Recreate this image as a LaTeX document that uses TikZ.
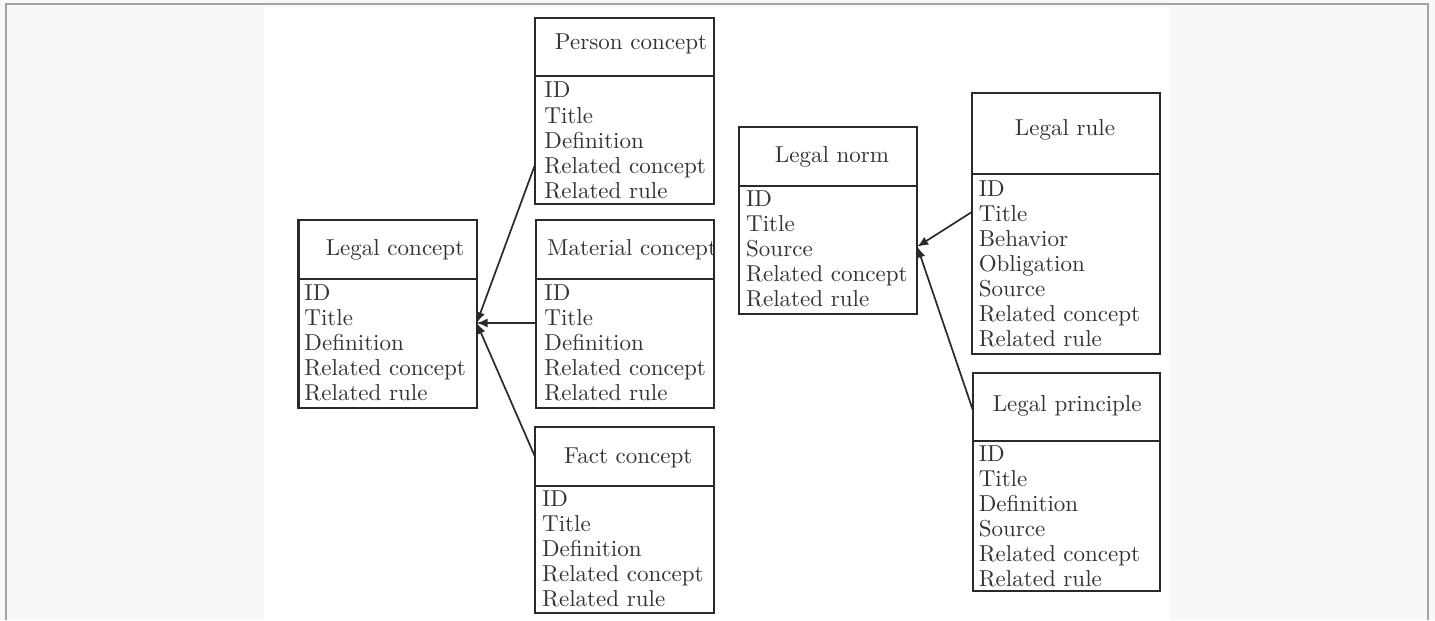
\documentclass[tikz,border=0pt]{standalone}
\usetikzlibrary{calc,arrows.meta}

% one drawing unit, used for sizes given in the same units as coordinates
\newlength\pxu
\setlength\pxu{0.441pt}

\definecolor{pagebg}{HTML}{F8F8F8}
\definecolor{framegray}{HTML}{A2A2A2}
\definecolor{ink}{HTML}{2A2A2A}
\definecolor{txt}{HTML}{333333}

\tikzset{
  classframe/.style={rectangle, draw=ink, line width=0.9pt, fill=white,
    inner sep=0pt, outer sep=0pt},
  divider/.style={draw=ink, line width=1pt},
  headtext/.style={text=txt, anchor=base, inner sep=0pt,
    font=\fontsize{10.15}{12}\selectfont},
  bodytext/.style={text=txt, anchor=base west, inner sep=0pt,
    font=\fontsize{10.15}{11.05}\selectfont},
  link/.style={draw=ink, line width=0.75pt, -{Latex[length=4.8pt,width=4pt]}}
}

% class box: name, left, top, right, bottom, y of the header divider
\newcommand\classbox[6]{%
  \node[classframe, minimum width={(#4-#2)*\pxu}, minimum height={(#5-#3)*\pxu}]
    (#1) at ({(#2+#4)/2},{(#3+#5)/2}) {};
  \draw[divider] (#1.west |- 0,#6) -- (#1.east |- 0,#6);
}
% attribute list, one entry per row
\newcommand\attrlist[1]{\begin{tabular}[t]{@{}l@{}}#1\end{tabular}}

\begin{document}
\begin{tikzpicture}[x=0.441pt, y=-0.441pt]
  % page and panel
  \fill[pagebg] (0,0) rectangle (1435,620);
  \fill[white] (264,7) rectangle (1169,620);
  \draw[framegray, line width={2*\pxu}] (6,620) -- (6,4) -- (1428,4) -- (1428,620);

  % concept side
  \classbox{lc}{298.5}{220}{476.7}{407.7}{279}
  \node[headtext] (lc-h) at (395,255.5) {Legal concept};
  \node[bodytext] (lc-b) at (304,300.5)
    {\attrlist{ID\\Title\\Definition\\Related concept\\Related rule}};

  \classbox{pc}{535}{17.7}{714}{204.3}{75.7}
  \node[headtext] (pc-h) at (631,50) {Person concept};
  \node[bodytext] (pc-b) at (544,98)
    {\attrlist{ID\\Title\\Definition\\Related concept\\Related rule}};

  \classbox{mc}{536}{220}{714}{407.7}{279}
  \begin{scope}
    \clip (mc.north west) rectangle (713.5,279);
    \node[headtext, anchor=base west] (mc-h) at (547,255.5) {Material concept};
  \end{scope}
  \node[bodytext] (mc-b) at (544,300.5)
    {\attrlist{ID\\Title\\Definition\\Related concept\\Related rule}};

  \classbox{fc}{535}{426.7}{714}{613.3}{486}
  \node[headtext] (fc-h) at (628.3,463.3) {Fact concept};
  \node[bodytext] (fc-b) at (541.7,506.5)
    {\attrlist{ID\\Title\\Definition\\Related concept\\Related rule}};

  % norm side
  \classbox{ln}{739}{126.7}{917.3}{314}{186}
  \node[headtext] (ln-h) at (832,162.7) {Legal norm};
  \node[bodytext] (ln-b) at (745.7,206.5)
    {\attrlist{ID\\Title\\Source\\Related concept\\Related rule}};

  \classbox{lr}{972.3}{92.7}{1160}{354}{174}
  \node[headtext] (lr-h) at (1065,135.7) {Legal rule};
  \node[bodytext] (lr-b) at (978.3,196.5)
    {\attrlist{ID\\Title\\Behavior\\Obligation\\Source\\Related concept\\Related rule}};

  \classbox{lp}{972.7}{372.7}{1160}{590.7}{441}
  \node[headtext] (lp-h) at (1067.2,411.7) {Legal principle};
  \node[bodytext] (lp-b) at (978.3,461.5)
    {\attrlist{ID\\Title\\Definition\\Source\\Related concept\\Related rule}};

  % specialisation links
  \coordinate (lc-in) at ($(lc.north east)+(0,103)$);
  \coordinate (ln-in) at ($(ln.north east)+(0,120)$);
  \draw[link] ($(pc.north west)+(0,147)$) -- (lc-in);
  \draw[link] ($(mc.north west)+(0,103)$) -- (lc-in);
  \draw[link] ($(fc.north west)+(0,30)$) -- (lc-in);
  \draw[link] ($(lr.north west)+(0,119)$) -- (ln-in);
  \draw[link] ($(lp.north west)+(0,37)$) -- (ln-in);
\end{tikzpicture}
\end{document}
